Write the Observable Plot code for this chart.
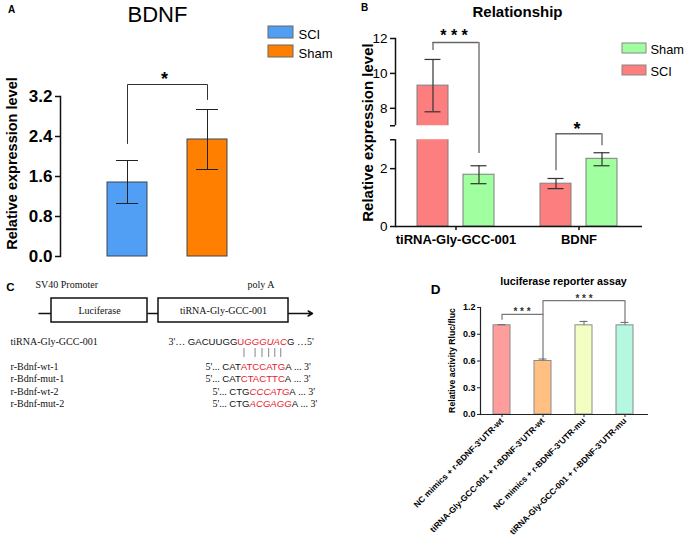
<!DOCTYPE html>
<html><head><meta charset="utf-8">
<script src="https://cdn.jsdelivr.net/npm/d3@7"></script>
<script src="https://cdn.jsdelivr.net/npm/@observablehq/plot@0.6"></script>
<style>
body{margin:0;background:#fff;}
#fig{position:relative;width:685px;height:536px;overflow:hidden;background:#fff;}
.panel{position:absolute;}
.panel svg{overflow:visible;display:block;}
</style></head><body><div id="fig"></div>
<script>
// ================= DATA =================
// Panel A
const groupsA = ["SCI", "Sham"];
const valuesA = [1.48, 2.34];
const errLoA = [1.06, 1.74];
const errHiA = [1.92, 2.94];
const colorsA = ["#519ff5", "#ff8000"];
const ticksA = [0, 0.8, 1.6, 2.4, 3.2];
const sigA = [{from: "SCI", to: "Sham", top: 3.44, fromEnd: 2.26, toEnd: 3.14, label: "*", labelY: 3.43}];

// Panel B
const categoriesB = ["tiRNA-Gly-GCC-001", "BDNF"];
const seriesB = ["SCI", "Sham"];
const sciB = [9.3, 1.48], sciLoB = [7.8, 1.31], sciHiB = [10.8, 1.66];
const shamB = [1.79, 2.34], shamLoB = [1.48, 2.1], shamHiB = [2.1, 2.55];
const colorsB = ["#fd7e7e", "#a0ff9e"];
const legendOrderB = ["Sham", "SCI"];
const ticksB = [0, 2, 8, 10, 12];
const breakB = [3, 7];
const sigB = [
  {cat: "tiRNA-Gly-GCC-001", top: 11.77, sciEnd: 11.31, shamEnd: 2.52, label: "* * *", labelY: 11.87, size: 16},
  {cat: "BDNF", top: 4.72, sciEnd: 1.93, shamEnd: 2.79, label: "*", labelY: 4.32, size: 18}
];

// Panel C
const constructLabels = ["SV40 Promoter", "poly A"];
const boxLabels = ["Luciferase", "tiRNA-Gly-GCC-001"];
const rowLabels = ["tiRNA-Gly-GCC-001", "r-Bdnf-wt-1", "r-Bdnf-mut-1", "r-Bdnf-wt-2", "r-Bdnf-mut-2"];
// segment kinds: s = serif, k = black sequence, r = red sequence, ri = red italic sequence
const rowSeqs = [
  [["3'… ", "s"], ["GACUUGG", "k"], ["U", "r"], ["GGGUAC", "ri"], ["G", "k"], [" …5'", "s"]],
  [["5'... ", "s"], ["CAT", "k"], ["ATCCATG", "r"], ["A", "k"], [" ... 3'", "s"]],
  [["5'... ", "s"], ["CAT", "k"], ["CTACTTC", "r"], ["A", "k"], [" ... 3'", "s"]],
  [["5'... ", "s"], ["CTG", "k"], ["CCCATG", "ri"], ["A", "k"], [" ... 3'", "s"]],
  [["5'... ", "s"], ["CTG", "k"], ["ACGAGG", "ri"], ["A", "k"], [" ... 3'", "s"]]
];
const pairedIdx = [3, 5, 6, 7, 8, 9]; // bases of r-Bdnf-wt-1 paired with the tiRNA

// Panel D
const categoriesD = ["NC mimics + r-BDNF-3'UTR-wt", "tiRNA-Gly-GCC-001 + r-BDNF-3'UTR-wt", "NC mimics + r-BDNF-3'UTR-mu", "tiRNA-Gly-GCC-001 + r-BDNF-3'UTR-mu"];
const valuesD = [1.0, 0.6, 1.0, 1.0];
const errHiD = [1.007, 0.622, 1.044, 1.033];
const colorsD = ["#ff9c9c", "#ffc081", "#f3ffc2", "#b3f8df"];
const ticksD = [0, 0.3, 0.6, 0.9, 1.2];
const sigD = [
  {from: 0, to: 1, fromEnd: 1.067, top: 1.122, toEnd: 0.622, label: "* * *", labelY: 1.113},
  {from: 1, to: 3, fromEnd: 1.122, top: 1.278, toEnd: 1.033, label: "* * *", labelY: 1.258}
];

// ================= HELPERS =================
const SANS = '"Liberation Sans", Arial, Helvetica, sans-serif';
const SERIF = '"Liberation Serif", "Times New Roman", serif';
const fig = document.getElementById("fig");
function mount(node, left, top) {
  const div = document.createElement("div");
  div.className = "panel";
  div.style.left = left + "px";
  div.style.top = top + "px";
  div.appendChild(node);
  fig.appendChild(div);
}
function pix(dim) {
  return {
    text: (s, x, y, o = {}) => Plot.text([s], {frameAnchor: "top-left", dx: x - dim.ml, dy: y - dim.mt, text: d => d, textAnchor: "middle", lineAnchor: "bottom", ...o}),
    rect: (x1, y1, x2, y2, o = {}) => Plot.rect([0], {insetLeft: x1 - dim.ml, insetRight: dim.w - dim.mr - x2, insetTop: y1 - dim.mt, insetBottom: dim.h - dim.mb - y2, ...o})
  };
}
const styleBase = {fontFamily: SANS, background: "transparent", overflow: "visible", color: "#000"};

// ================= PANEL A =================
{
  const dim = {w: 340, h: 270, ml: 60, mr: 0, mt: 96, mb: 14};
  const p = pix(dim);
  const dataA = groupsA.map((g, i) => ({group: g, value: valuesA[i], lo: errLoA[i], hi: errHiA[i]}));
  const bracket = sigA.flatMap(s => [{x: s.from, y: s.fromEnd}, {x: s.from, y: s.top}, {x: s.to, y: s.top}, {x: s.to, y: s.toEnd}]);
  const marks = [
    Plot.barY(dataA, {x: "group", y: "value", fill: "group", stroke: "#3c4652", strokeWidth: 1}),
    Plot.ruleX(dataA, {x: "group", y1: "lo", y2: "hi", stroke: "#222", strokeWidth: 1}),
    Plot.tickY(dataA, {x: "group", y: "hi", stroke: "#222", insetLeft: 9, insetRight: 9}),
    Plot.tickY(dataA, {x: "group", y: "lo", stroke: "#222", insetLeft: 9, insetRight: 9}),
    Plot.line(bracket, {x: "x", y: "y", stroke: "#333", strokeWidth: 1}),
    Plot.text(sigA, {x: "from", y: "labelY", text: "label", dx: 37, lineAnchor: "bottom", fontSize: 18, fontWeight: "bold"}),
    Plot.frame({anchor: "left", stroke: "#111", strokeWidth: 1.5}),
    Plot.axisY({ticks: ticksA, tickFormat: d3.format(".1f"), tickSize: 5, tickPadding: 3, fontSize: 17, fontWeight: "bold", label: null, stroke: "#111", strokeWidth: 1.5}),
    p.text("A", 11, 12, {fontSize: 10, fontWeight: "bold"}),
    p.text("BDNF", 157, 21, {fontSize: 22}),
    p.text("Relative expression level", 12, 163, {rotate: -90, lineAnchor: "middle", fontSize: 14.5, fontWeight: "bold"})
  ];
  groupsA.forEach((g, i) => {
    marks.push(p.rect(268, 26 + 19 * i, 293, 38 + 19 * i, {fill: colorsA[i], stroke: "#666", strokeWidth: 1}));
    marks.push(p.text(g, 298, 38 + 19 * i, {textAnchor: "start", fontSize: 13}));
  });
  const plot = Plot.plot({
    width: dim.w, height: dim.h, marginTop: dim.mt, marginBottom: dim.mb, marginLeft: dim.ml, marginRight: dim.mr,
    style: styleBase,
    x: {type: "band", domain: groupsA, range: [87, 247], paddingInner: 0.5, paddingOuter: 0.25, axis: null},
    y: {domain: [0, 3.2], label: null},
    color: {domain: groupsA, range: colorsA},
    marks
  });
  mount(plot, 0, 0);
}

// ================= PANEL B =================
{
  const dim = {w: 345, h: 270, ml: 55, mr: 43, mt: 38, mb: 44};
  const p = pix(dim);
  // broken axis: lower segment 0–3 (29 px/unit), upper 7–12 (17.5 px/unit), 14 px gap
  const brk = v => v <= breakB[0] ? v
    : v >= breakB[1] ? breakB[0] + 14 / 29 + (v - breakB[1]) * 17.5 / 29
    : breakB[0] + (v - breakB[0]) / (breakB[1] - breakB[0]) * 14 / 29;
  const dataB = categoriesB.flatMap((c, i) => [
    {cat: c, series: "SCI", value: sciB[i], lo: sciLoB[i], hi: sciHiB[i]},
    {cat: c, series: "Sham", value: shamB[i], lo: shamLoB[i], hi: shamHiB[i]}
  ]);
  const labelB = new Map(ticksB.map(t => [brk(t), String(t)]));
  const marks = [];
  seriesB.forEach((s, k) => {
    const sub = dataB.filter(d => d.series === s);
    marks.push(Plot.barY(sub, {x: "cat", y1: 0, y2: d => brk(d.value), fill: "series", stroke: "#7f7f7f", strokeWidth: 1,
      insetLeft: k === 0 ? 0 : 46, insetRight: k === 0 ? 46 : 0}));
  });
  marks.push(Plot.frame({anchor: "left", stroke: "#111", strokeWidth: 1.5}));
  marks.push(Plot.rect([0], {y1: brk(breakB[0]), y2: brk(breakB[1]), fill: "white", insetLeft: -4}));
  seriesB.forEach((s, k) => {
    const sub = dataB.filter(d => d.series === s);
    const off = k === 0 ? -23 : 23;
    marks.push(Plot.ruleX(sub, {x: "cat", y1: d => brk(d.lo), y2: d => brk(d.hi), dx: off, stroke: "#333", strokeWidth: 1.2}));
    marks.push(Plot.tickY(sub, {x: "cat", y: d => brk(d.hi), dx: off, insetLeft: 30.5, insetRight: 30.5, stroke: "#333", strokeWidth: 1.2}));
    marks.push(Plot.tickY(sub, {x: "cat", y: d => brk(d.lo), dx: off, insetLeft: 30.5, insetRight: 30.5, stroke: "#333", strokeWidth: 1.2}));
  });
  marks.push(
    Plot.tickY(sigB, {x: "cat", y: d => brk(d.top), insetLeft: 15.5, insetRight: 15.5, stroke: "#666", strokeWidth: 1.3}),
    Plot.ruleX(sigB, {x: "cat", y1: d => brk(d.top), y2: d => brk(d.sciEnd), dx: -23, stroke: "#666", strokeWidth: 1.3}),
    Plot.ruleX(sigB, {x: "cat", y1: d => brk(d.top), y2: d => brk(d.shamEnd), dx: 23, stroke: "#666", strokeWidth: 1.3}),
    Plot.text(sigB.filter(d => d.size === 16), {x: "cat", y: d => brk(d.labelY), text: "label", lineAnchor: "bottom", fontSize: 16, fontWeight: "bold", dx: -2}),
    Plot.text(sigB.filter(d => d.size === 18), {x: "cat", y: d => brk(d.labelY), text: "label", lineAnchor: "bottom", fontSize: 18, fontWeight: "bold", dx: -2}),
    Plot.ruleY([0], {stroke: "#111", strokeWidth: 1.5}),
    Plot.axisY({ticks: [...ticksB, ...breakB].map(brk), tickFormat: d => labelB.get(d) ?? "", tickSize: 5, tickPadding: 3, fontSize: 13.5, label: null, stroke: "#111", strokeWidth: 1.5}),
    Plot.axisX({tickSize: 4, tickPadding: 4, fontSize: 13, fontWeight: "bold", label: null, stroke: "#111", strokeWidth: 1.5}),
    p.text("B", 24, 10, {fontSize: 10, fontWeight: "bold"}),
    p.text("Relationship", 177, 16, {fontSize: 15, fontWeight: "bold"}),
    p.text("Relative expression level", 28, 132, {rotate: -90, lineAnchor: "middle", fontSize: 15, fontWeight: "bold"})
  );
  legendOrderB.forEach((s, i) => {
    marks.push(p.rect(282, 43 + 22 * i, 306, 53 + 22 * i, {fill: colorsB[seriesB.indexOf(s)], stroke: "#888", strokeWidth: 1}));
    marks.push(p.text(s, 310, 53 + 22 * i, {textAnchor: "start", fontSize: 12.8}));
  });
  const plot = Plot.plot({
    width: dim.w, height: dim.h, marginTop: dim.mt, marginBottom: dim.mb, marginLeft: dim.ml, marginRight: dim.mr,
    style: styleBase,
    x: {type: "band", domain: categoriesB, range: [77, 277], paddingInner: 46 / 123, paddingOuter: 0, label: null},
    y: {domain: [0, brk(12)], label: null},
    color: {domain: seriesB, range: colorsB},
    marks
  });
  mount(plot, 340, 0);
}

// ================= PANEL C =================
{
  const layout = {
    title: [{x: 35, y: 17}, {x: 247, y: 17}],
    boxes: [{x1: 51, x2: 147, y1: 28, y2: 52}, {x1: 158, x2: 288, y1: 28, y2: 52}],
    backbone: [{x1: 38, x2: 51, y: 43}, {x1: 147, x2: 158, y: 43}],
    arrow: {x1: 288, x2: 312, y: 43},
    rowBase: [74, 99, 111.5, 124, 136.5],
    rowLabelX: 10,
    rowSeqX: [168, 205, 205, 212, 212],
    pairY: [78, 87]
  };
  const canvas = document.createElement("canvas");
  const ctx = canvas.getContext("2d");
  const kinds = {
    s: {family: SERIF, size: 10, style: "normal", fill: "#111"},
    k: {family: SANS, size: 9.6, style: "normal", fill: "#111"},
    r: {family: SANS, size: 9.6, style: "normal", fill: "#e8202a"},
    ri: {family: SANS, size: 9.6, style: "italic", fill: "#e8202a"}
  };
  const measure = (t, k) => { const f = kinds[k]; ctx.font = `${f.style} ${f.size}px ${f.family}`; return ctx.measureText(t).width; };
  const segs = [];
  rowSeqs.forEach((row, r) => {
    let x = layout.rowSeqX[r];
    row.forEach(([t, k]) => { segs.push({text: t, kind: k, x, y: layout.rowBase[r]}); x += measure(t, k); });
  });
  // pairing bars under r-Bdnf-wt-1
  const row1 = rowSeqs[1];
  const seqStart1 = layout.rowSeqX[1] + measure(row1[0][0], "s");
  const seq1 = row1.slice(1, 4).map(d => d[0]).join("");
  const pairs = pairedIdx.map(i => ({x: seqStart1 + measure(seq1.slice(0, i), "k") + measure(seq1[i], "k") / 2}));
  const marks = [
    Plot.link(layout.backbone, {x1: "x1", x2: "x2", y1: "y", y2: "y", stroke: "#111", strokeWidth: 1.5}),
    Plot.arrow([layout.arrow], {x1: "x1", x2: "x2", y1: "y", y2: "y", stroke: "#111", strokeWidth: 1.5, headLength: 5, bend: 0}),
    Plot.rect(layout.boxes, {x1: "x1", x2: "x2", y1: "y1", y2: "y2", fill: "white", stroke: "#111", strokeWidth: 1.5}),
    Plot.text(boxLabels, {x: (d, i) => (layout.boxes[i].x1 + layout.boxes[i].x2) / 2, y: 43, text: d => d, lineAnchor: "bottom", fontFamily: SERIF, fontSize: 10, fill: "#111"}),
    Plot.text(constructLabels, {x: (d, i) => layout.title[i].x, y: (d, i) => layout.title[i].y, text: d => d, textAnchor: "start", lineAnchor: "bottom", fontFamily: SERIF, fontSize: 10, fill: "#111"}),
    Plot.text(["C"], {x: 10, y: 20, text: d => d, lineAnchor: "bottom", fontSize: 11.5, fontWeight: "bold"}),
    Plot.text(rowLabels, {x: layout.rowLabelX, y: (d, i) => layout.rowBase[i], text: d => d, textAnchor: "start", lineAnchor: "bottom", fontFamily: SERIF, fontSize: 10, fill: "#111"}),
    Plot.ruleX(pairs, {x: "x", y1: layout.pairY[0], y2: layout.pairY[1], stroke: "#666", strokeWidth: 0.8})
  ];
  Object.entries(kinds).forEach(([k, f]) => {
    marks.push(Plot.text(segs.filter(d => d.kind === k), {x: "x", y: "y", text: "text", textAnchor: "start", lineAnchor: "bottom",
      fontFamily: f.family, fontSize: f.size, fontStyle: f.style, fill: f.fill}));
  });
  const plot = Plot.plot({
    width: 340, height: 145, margin: 0,
    style: styleBase,
    x: {domain: [0, 340], range: [0, 340], axis: null},
    y: {domain: [0, 145], range: [0, 145], axis: null},
    marks
  });
  mount(plot, 0, 270);
}

// ================= PANEL D =================
{
  const dim = {w: 315, h: 266, ml: 110, mr: 37, mt: 37, mb: 122};
  const p = pix(dim);
  const dataD = categoriesD.map((c, i) => ({cat: c, value: valuesD[i], hi: errHiD[i]}));
  const lines = sigD.flatMap((s, j) => [
    {x: categoriesD[s.from], y: s.fromEnd, b: j}, {x: categoriesD[s.from], y: s.top, b: j},
    {x: categoriesD[s.to], y: s.top, b: j}, {x: categoriesD[s.to], y: s.toEnd, b: j}
  ]);
  const marks = [
    Plot.barY(dataD, {x: "cat", y: "value", fill: "cat", stroke: "#8a8a8a", strokeWidth: 1}),
    Plot.ruleX(dataD, {x: "cat", y1: "value", y2: "hi", stroke: "#666", strokeWidth: 1}),
    Plot.tickY(dataD, {x: "cat", y: "hi", insetLeft: 4.5, insetRight: 4.5, stroke: "#666", strokeWidth: 1}),
    Plot.line(lines, {x: "x", y: "y", z: "b", stroke: "#777", strokeWidth: 1.2}),
    // label of an adjacent-bar bracket sits half a band step right of its first bar
    Plot.text(sigD.filter(d => d.to - d.from === 1), {x: d => categoriesD[d.from], y: "labelY", text: "label", lineAnchor: "bottom", fontSize: 10, fontWeight: "bold", fill: "#333", dx: 20}),
    Plot.text(sigD.filter(d => d.to - d.from !== 1), {x: d => categoriesD[d.from + 1], y: "labelY", text: "label", lineAnchor: "bottom", fontSize: 10, fontWeight: "bold", fill: "#333"}),
    Plot.frame({anchor: "left", stroke: "#222", strokeWidth: 1.2}),
    Plot.ruleY([0], {stroke: "#222", strokeWidth: 1.2}),
    Plot.axisY({ticks: ticksD, tickFormat: d3.format(".1f"), tickSize: 3, tickPadding: 2, fontSize: 9, fontWeight: "bold", label: null, stroke: "#222"}),
    Plot.axisX({tickSize: 3, tickPadding: 2, tickRotate: -45, fontSize: 8.5, fontWeight: "bold", label: null, stroke: "#222"}),
    p.text("D", 65, 23, {fontSize: 13.5, fontWeight: "bold"}),
    p.text("luciferase reporter assay", 193, 14, {fontSize: 10.7, fontWeight: "bold"}),
    p.text("Relative activity Rluc/fluc", 82, 90, {rotate: -90, lineAnchor: "middle", fontSize: 8.7, fontWeight: "bold"})
  ];
  const plot = Plot.plot({
    width: dim.w, height: dim.h, marginTop: dim.mt, marginBottom: dim.mb, marginLeft: dim.ml, marginRight: dim.mr,
    style: styleBase,
    x: {type: "band", domain: categoriesD, range: [122, 264], paddingInner: 0.59, paddingOuter: 0, label: null},
    y: {domain: [0, 1.2], label: null},
    color: {domain: categoriesD, range: colorsD},
    marks
  });
  mount(plot, 370, 270);
}
</script></body></html>
